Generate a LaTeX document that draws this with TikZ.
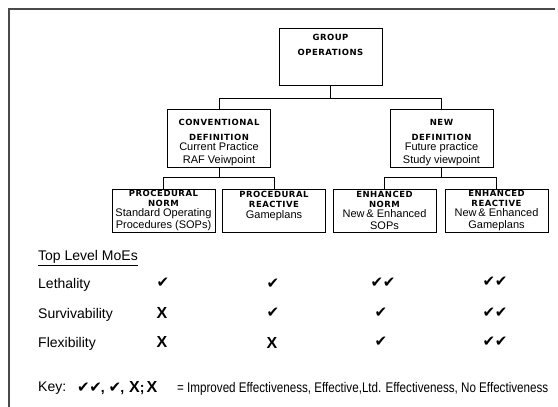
\documentclass[tikz,border=0pt]{standalone}
\usepackage{fontspec}
\usepackage{graphicx}
\usepackage{tikz}
\usetikzlibrary{positioning}
\setmainfont{Liberation Sans}
\newfontfamily\headfont[LetterSpace=6]{DejaVu Sans}
\newfontfamily\symfont{DejaVu Sans}
\definecolor{framegray}{HTML}{4A4A4A}

\newcommand{\boxfont}{\fontsize{11}{12}\selectfont\setlength{\lineskiplimit}{-20pt}}
\newcommand{\hd}[1]{{\headfont\bfseries\fontsize{8.5}{9}\selectfont #1}}
\newcommand{\effone}{{\symfont\fontsize{15}{15}\selectfont ✔}}
\newcommand{\efftwo}{{\symfont\fontsize{15}{15}\selectfont ✔\kern-0.5pt✔}}
\newcommand{\noeff}{{\bfseries\fontsize{16}{16}\selectfont X}}

\begin{document}
\begin{tikzpicture}[x=1pt, y=-1pt,
    box/.style={draw, line width=0.8pt, minimum width=103pt, inner xsep=1pt,
      inner ysep=1pt, align=center, font=\boxfont},
    lbl/.style={anchor=west, inner sep=0pt, font=\fontsize{14}{16}\selectfont},
    cell/.style={inner sep=0pt}]
  \useasboundingbox (0,0) rectangle (558,407);
  \draw[framegray, line width=1.2pt] (555,9) -- (9,9) -- (9,407);

  % tree of definitions
  \node[box, minimum height=56.5pt] (grp) at (330.5,56.75)
    {\hd{GROUP}\\[3pt]\hd{OPERATIONS}\\[12pt]\mbox{}};
  \node[box, minimum height=57pt] (conv) at (219,138.5)
    {\rule{0pt}{15pt}\hd{CONVENTIONAL}\\[3pt]\hd{DEFINITION}\\[-2pt]Current Practice\\[1pt]RAF Veiwpoint};
  \node[box, minimum height=57pt] (newd) at (441.5,138.5)
    {\rule{0pt}{15pt}\hd{NEW}\\[3pt]\hd{DEFINITION}\\[-2pt]Future practice\\[1pt]Study viewpoint};

  \node[box, minimum height=43pt] (pnorm) at (163.5,210.5)
    {\hd{PROCEDURAL}\\[-2pt]\hd{NORM}\\[-2pt]Standard Operating\\Procedures (SOPs)};
  \node[box, minimum height=43pt] (preac) at (274,210.5)
    {\hd{PROCEDURAL}\\[-2pt]\hd{REACTIVE}\\[-1pt]Gameplans\\[-1pt]\mbox{}};
  \node[box, minimum height=43pt] (enorm) at (384.5,210.5)
    {\hd{ENHANCED}\\[-2pt]\hd{NORM}\\[-2pt]New\,\& Enhanced\\SOPs};
  \node[box, minimum height=43pt] (ereac) at (496.5,210.5)
    {\hd{ENHANCED}\\[-2pt]\hd{REACTIVE}\\[-2pt]New\,\& Enhanced\\Gameplans};

  \draw (grp.south) -- ++(0,13) -| (conv.north);
  \draw (grp.south) -- ++(0,13) -| (newd.north);
  \draw (conv.south) -- ++(0,10) -| (pnorm.north);
  \draw (conv.south) -- ++(0,10) -| (preac.north);
  \draw (newd.south) -- ++(0,10) -| (enorm.north);
  \draw (newd.south) -- ++(0,10) -| (ereac.north);

  % measures of effectiveness
  \node[lbl] (moe) at (38,258) {\underline{Top Level MoEs}};
  \node[lbl] (leth) at (38,285) {Lethality};
  \node[lbl] (surv) at (38,315) {Survivability};
  \node[lbl] (flex) at (38,344) {Flexibility};

  \node[cell] (l1) at (163,283) {\effone};
  \node[cell] (l2) at (273,284) {\effone};
  \node[cell] (l3) at (383,283) {\efftwo};
  \node[cell] (l4) at (495,282) {\efftwo};
  \node[cell] (s1) at (162,313) {\noeff};
  \node[cell] (s2) at (273,313) {\effone};
  \node[cell] (s3) at (381,313) {\effone};
  \node[cell] (s4) at (495,313) {\efftwo};
  \node[cell] (f1) at (162,342) {\noeff};
  \node[cell] (f2) at (272,343) {\noeff};
  \node[cell] (f3) at (381,342) {\effone};
  \node[cell] (f4) at (495,342) {\efftwo};

  % key
  \node[lbl] (key) at (38,388) {Key:};
  \node[lbl] (keysym) at (77,388)
    {\efftwo\kern-1pt\textbf{,}\hspace{4pt}\effone\kern-1pt\textbf{,}\hspace{5pt}\noeff\textbf{;}\hspace{2pt}\noeff};
  \node[lbl, font=\fontsize{14}{16}\selectfont] (keytxt) at (177,389)
    {\resizebox{371pt}{\height}{= Improved Effectiveness, Effective,Ltd. Effectiveness, No Effectiveness}};
\end{tikzpicture}
\end{document}
